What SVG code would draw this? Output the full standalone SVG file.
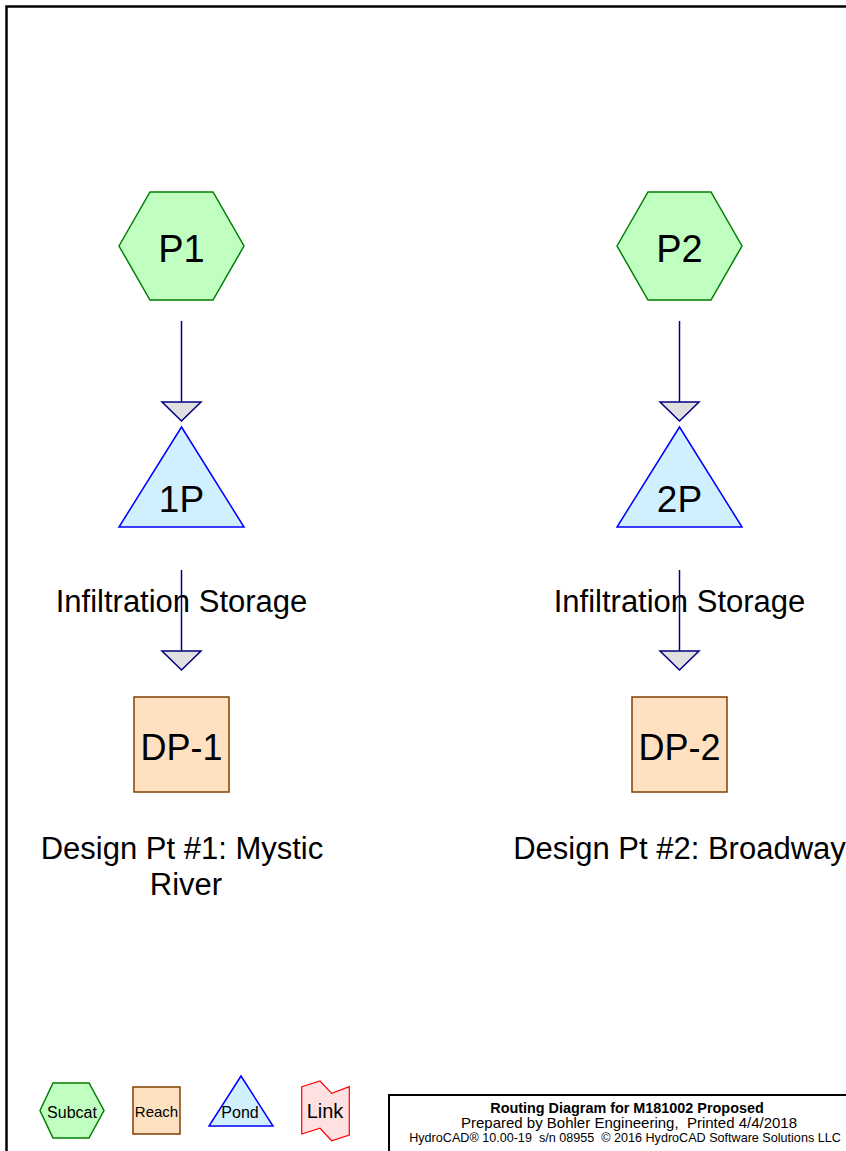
<svg xmlns="http://www.w3.org/2000/svg" width="846" height="1151" viewBox="0 0 846 1151">
<style>
.t{font-family:"Liberation Sans",Arial,sans-serif;fill:#000;text-anchor:middle}
.sub{fill:#c0ffc0;stroke:#008000;stroke-width:1.5}
.pond{fill:#d0f0ff;stroke:#0000ff;stroke-width:1.5}
.reach{fill:#ffe0c0;stroke:#804000;stroke-width:1.5}
.link{fill:#ffe0e0;stroke:#ff0000;stroke-width:1.2}
.cl{stroke:#000080;stroke-width:1.5;fill:none}
.ah{fill:#e0e0e0;stroke:#000080;stroke-width:1.5;stroke-linejoin:miter}
</style>
<rect x="0" y="0" width="846" height="1151" fill="#fff"/>
<rect x="6.5" y="6.5" width="860" height="1170" fill="none" stroke="#000" stroke-width="2.5"/>

<g id="P1">
<polygon class="sub" points="119,246 150,192 213,192 244,246 213,300 150,300"/>
<text class="t" x="181.5" y="262" font-size="38">P1</text>
</g>
<g id="P2">
<polygon class="sub" points="617,246 648,192 711,192 742,246 711,300 648,300"/>
<text class="t" x="679.5" y="262" font-size="38">P2</text>
</g>
<g id="1P">
<polygon class="pond" points="181.5,427 244,527 119,527"/>
<text class="t" x="181.5" y="512" font-size="37">1P</text>
<text class="t" x="181.5" y="612" font-size="31">Infiltration Storage</text>
</g>
<g id="2P">
<polygon class="pond" points="679.5,427 742,527 617,527"/>
<text class="t" x="679.5" y="512" font-size="37">2P</text>
<text class="t" x="679.5" y="612" font-size="31">Infiltration Storage</text>
</g>
<g id="DP-1">
<rect class="reach" x="134" y="697" width="95" height="95"/>
<text class="t" x="181.5" y="760" font-size="36">DP-1</text>
<text class="t" x="182" y="859" font-size="31">Design Pt #1: Mystic</text>
<text class="t" x="186" y="895" font-size="31">River</text>
</g>
<g id="DP-2">
<rect class="reach" x="632" y="697" width="95" height="95"/>
<text class="t" x="679.5" y="760" font-size="36">DP-2</text>
<text class="t" x="679.5" y="859" font-size="31">Design Pt #2: Broadway</text>
</g>

<g id="connectors">
<line class="cl" x1="181.5" y1="321" x2="181.5" y2="402"/>
<polygon class="ah" points="162,402 201,402 181.5,421"/>
<line class="cl" x1="181.5" y1="570" x2="181.5" y2="651"/>
<polygon class="ah" points="162,651 201,651 181.5,670"/>
<line class="cl" x1="679.5" y1="321" x2="679.5" y2="402"/>
<polygon class="ah" points="660,402 699,402 679.5,421"/>
<line class="cl" x1="679.5" y1="570" x2="679.5" y2="651"/>
<polygon class="ah" points="660,651 699,651 679.5,670"/>
</g>

<g id="legend">
<g id="legend-subcat">
<polygon class="sub" stroke-width="1.2" points="40,1110.5 53,1083 89,1083 104,1110.5 89,1138 53,1138"/>
<text class="t" x="72" y="1118" font-size="16">Subcat</text>
</g>
<g id="legend-reach">
<rect class="reach" stroke-width="1.2" x="133" y="1087" width="47" height="47"/>
<text class="t" x="156.5" y="1117" font-size="15">Reach</text>
</g>
<g id="legend-pond">
<polygon class="pond" stroke-width="1.2" points="241,1076 273,1126 209,1126"/>
<text class="t" x="240" y="1118" font-size="16">Pond</text>
</g>
<g id="legend-link">
<polygon class="link" points="301.7,1086.7 320,1081 331.7,1093.3 349.3,1086.7 349.3,1135 331.7,1140.7 320,1128.3 301.7,1134"/>
<text class="t" x="325" y="1118" font-size="20">Link</text>
</g>
</g>

<g id="title">
<rect x="389" y="1095" width="480" height="80" fill="#fff" stroke="#000" stroke-width="2"/>
<text class="t" x="627" y="1113" font-size="14.4" font-weight="bold">Routing Diagram for M181002 Proposed</text>
<text class="t" x="629" y="1128" font-size="15" xml:space="preserve">Prepared by Bohler Engineering,  Printed 4/4/2018</text>
<text class="t" x="625" y="1142" font-size="12.6" xml:space="preserve">HydroCAD® 10.00-19  s/n 08955  © 2016 HydroCAD Software Solutions LLC</text>
</g>
</svg>
